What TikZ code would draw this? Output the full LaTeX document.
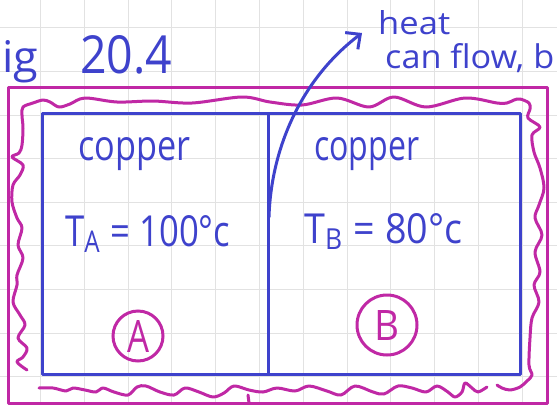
\documentclass[tikz,border=0pt]{standalone}
\usepackage{fontspec}
\setmainfont{Open Sans}
\usetikzlibrary{arrows.meta}
\definecolor{inkblue}{RGB}{62,66,204}
\definecolor{inkmag}{RGB}{192,40,165}
\definecolor{gridgray}{RGB}{226,226,226}
\newcommand{\fitto}[3]{\resizebox{#1}{#2}{#3}}
\begin{document}
\begin{tikzpicture}[x=1pt,y=-1pt,
  bluepen/.style={draw=inkblue,line width=3pt,line join=round},
  magpen/.style={draw=inkmag,line width=3pt,line cap=round,line join=round},
  bluetext/.style={text=inkblue,inner sep=0pt,anchor=base west},
  circled/.style={circle,draw=inkmag,line width=3pt,text=inkmag,inner sep=0pt},
  gridline/.style={draw=gridgray,line width=1pt}]
\useasboundingbox (0,0) rectangle (557,405);
\fill[white] (0,0) rectangle (557,405);
% grid paper
\foreach \k in {0,...,11} \draw[gridline] ({40.5+43.8*\k},0) -- ({40.5+43.8*\k},405);
\foreach \k in {0,...,8} \draw[gridline] (0,{27.8+43.6*\k}) -- (557,{27.8+43.6*\k});
% outer magenta frame
\draw[magpen,line cap=butt] (8,87) rectangle (547,403);
% wavy insulation
\draw[magpen] plot[smooth,tension=0.55] coordinates {
 (27,370) (17,362) (23,357) (27,348) (18,338) (25,325) (20,315) (13,302)
 (17,285) (17,275) (23,258) (18,245) (22,228) (17,218) (12,202) (13,185)
 (20,175) (23,165) (12,157) (19,153) (22,145) (23,128) (22,115) (23,107)
 (33,103) (43,100) (50,102) (59,107) (70,104) (85,98) (117,102) (153,101)
 (192,103) (242,97) (270,102) (302,105) (337,98) (369,107) (394,97) (426,107)
 (465,98) (497,103) (507,103) (514,100) (520,99) (529,103) (530,109) (528,118)
 (540,127) (532,135) (534,152) (540,168) (544,188) (539,205) (535,218) (542,235)
 (535,252) (540,272) (534,285) (539,302) (532,318) (530,338) (529,365) (532,375)
 (527,381) (520,387) (510,390) (502,388) (497,385)};
\draw[magpen] plot[smooth,tension=0.55] coordinates {
 (39,388) (53,388) (66,391) (73,388) (85,390) (96,392) (103,388) (114,392)
 (128,395) (137,387) (146,386) (160,392) (174,395) (185,388) (199,392) (213,397)
 (224,393) (234,386) (249,390) (263,392) (277,388) (295,391) (309,386) (327,391)
 (341,395) (355,386) (373,392) (384,394) (398,386) (412,388) (426,392) (437,386)
 (448,392) (455,397) (462,392) (465,383) (472,388) (478,392) (487,387)};
\draw[magpen] (248,395) -- (249,403);
% copper blocks
\coordinate (tl) at (42,113);
\coordinate (br) at (520,374);
\coordinate (midtop) at (268,113);
\coordinate (midbot) at (268,374);
\draw[bluepen] (tl) rectangle (br);
\draw[bluepen] (midtop) -- (midbot);
% heat-flow arrow
\coordinate (src) at (269,217);
\coordinate (tgt) at (362,33);
\draw[bluepen,line cap=round,-{Straight Barb[length=11pt,width=21pt,line width=3pt]}]
  (src) .. controls (271,150) and (300,80) .. (tgt);
% texts
\node[bluetext] (figlbl) at (2,72) {\fitto{36pt}{32pt}{ig}};
\node[bluetext] (fignum) at (80,73) {\fitto{92pt}{38pt}{20.4}};
\node[bluetext] (heat) at (378,34) {\fitto{72pt}{24pt}{heat}};
\node[bluetext] (flow) at (385,68) {\fitto{169pt}{25pt}{can flow, b}};
\node[bluetext] (cuA) at (78,160) {\fitto{112pt}{23pt}{copper}};
\node[bluetext] (cuB) at (314,160) {\fitto{105pt}{23pt}{copper}};
\node[bluetext] (tA) at (65,246) {\fitto{165pt}{31pt}{T\textsubscript{A} = 100°c}};
\node[bluetext] (tB) at (304,243) {\fitto{158pt}{30pt}{T\textsubscript{B} = 80°c}};
\node[circled,minimum size=50pt] (labA) at (138,336) {\fitto{22pt}{32pt}{A}};
\node[circled,minimum size=60pt] (labB) at (387,325) {\fitto{25pt}{30pt}{B}};
\end{tikzpicture}
\end{document}
